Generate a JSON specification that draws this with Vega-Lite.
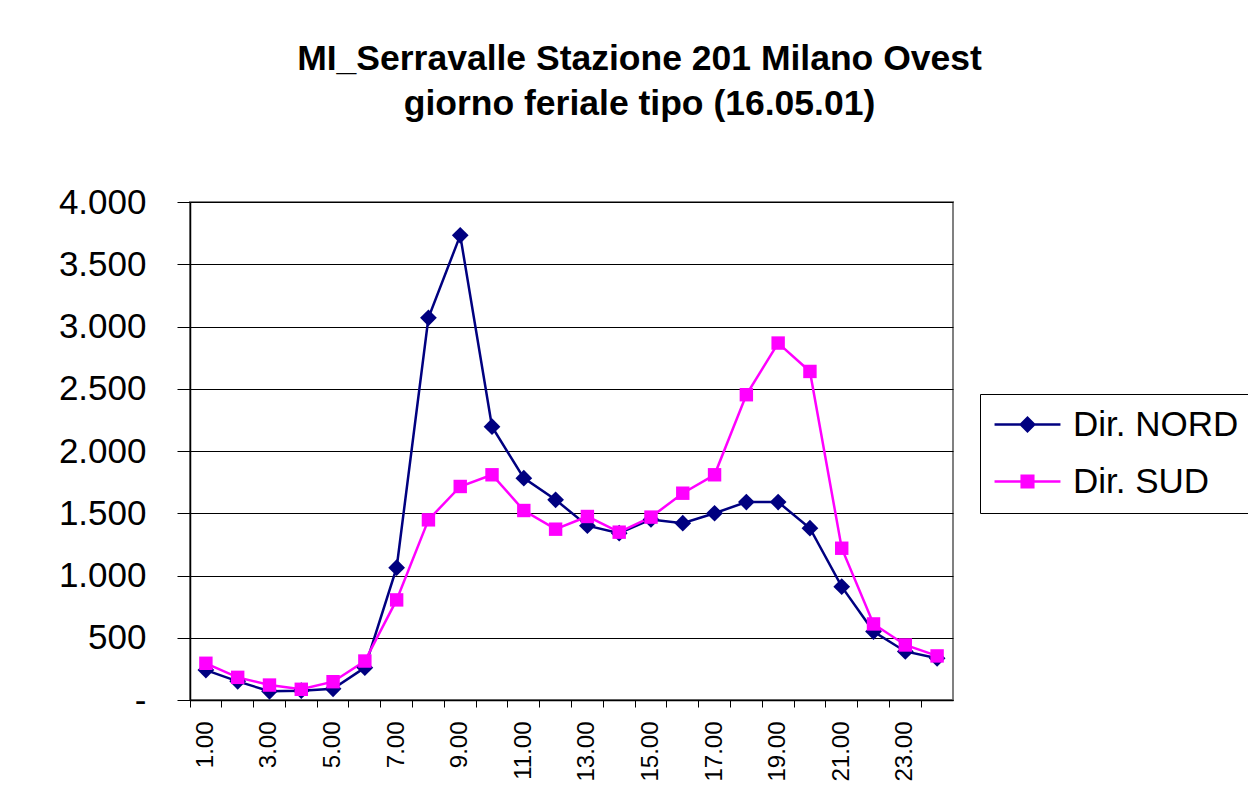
{
  "$schema": "https://vega.github.io/schema/vega-lite/v6.json",
  "autosize": {"type": "none"},
  "padding": {"left": 190, "top": 202, "right": 295, "bottom": 108},
  "width": 763,
  "height": 498,
  "background": "white",
  "title": {
    "text": ["MI_Serravalle Stazione 201 Milano Ovest", "giorno feriale tipo (16.05.01)"],
    "font": "Liberation Sans",
    "fontSize": 35.5,
    "fontWeight": "bold",
    "color": "black",
    "lineHeight": 45,
    "anchor": "middle",
    "frame": "group",
    "dx": 68,
    "offset": 63
  },
  "data": {
    "values": [
      {"ora": "1.00", "dir": "Dir. NORD", "v": 240},
      {"ora": "2.00", "dir": "Dir. NORD", "v": 150},
      {"ora": "3.00", "dir": "Dir. NORD", "v": 70},
      {"ora": "4.00", "dir": "Dir. NORD", "v": 75},
      {"ora": "5.00", "dir": "Dir. NORD", "v": 90},
      {"ora": "6.00", "dir": "Dir. NORD", "v": 260},
      {"ora": "7.00", "dir": "Dir. NORD", "v": 1063},
      {"ora": "8.00", "dir": "Dir. NORD", "v": 3070},
      {"ora": "9.00", "dir": "Dir. NORD", "v": 3732},
      {"ora": "10.00", "dir": "Dir. NORD", "v": 2195},
      {"ora": "11.00", "dir": "Dir. NORD", "v": 1782},
      {"ora": "12.00", "dir": "Dir. NORD", "v": 1608},
      {"ora": "13.00", "dir": "Dir. NORD", "v": 1400},
      {"ora": "14.00", "dir": "Dir. NORD", "v": 1340},
      {"ora": "15.00", "dir": "Dir. NORD", "v": 1450},
      {"ora": "16.00", "dir": "Dir. NORD", "v": 1420},
      {"ora": "17.00", "dir": "Dir. NORD", "v": 1500},
      {"ora": "18.00", "dir": "Dir. NORD", "v": 1590},
      {"ora": "19.00", "dir": "Dir. NORD", "v": 1590},
      {"ora": "20.00", "dir": "Dir. NORD", "v": 1380},
      {"ora": "21.00", "dir": "Dir. NORD", "v": 910},
      {"ora": "22.00", "dir": "Dir. NORD", "v": 550},
      {"ora": "23.00", "dir": "Dir. NORD", "v": 390},
      {"ora": "24.00", "dir": "Dir. NORD", "v": 335},
      {"ora": "1.00", "dir": "Dir. SUD", "v": 295},
      {"ora": "2.00", "dir": "Dir. SUD", "v": 182},
      {"ora": "3.00", "dir": "Dir. SUD", "v": 120},
      {"ora": "4.00", "dir": "Dir. SUD", "v": 86},
      {"ora": "5.00", "dir": "Dir. SUD", "v": 147},
      {"ora": "6.00", "dir": "Dir. SUD", "v": 313},
      {"ora": "7.00", "dir": "Dir. SUD", "v": 804},
      {"ora": "8.00", "dir": "Dir. SUD", "v": 1447},
      {"ora": "9.00", "dir": "Dir. SUD", "v": 1715},
      {"ora": "10.00", "dir": "Dir. SUD", "v": 1809},
      {"ora": "11.00", "dir": "Dir. SUD", "v": 1522},
      {"ora": "12.00", "dir": "Dir. SUD", "v": 1372},
      {"ora": "13.00", "dir": "Dir. SUD", "v": 1474},
      {"ora": "14.00", "dir": "Dir. SUD", "v": 1348},
      {"ora": "15.00", "dir": "Dir. SUD", "v": 1469},
      {"ora": "16.00", "dir": "Dir. SUD", "v": 1661},
      {"ora": "17.00", "dir": "Dir. SUD", "v": 1809},
      {"ora": "18.00", "dir": "Dir. SUD", "v": 2452},
      {"ora": "19.00", "dir": "Dir. SUD", "v": 2867},
      {"ora": "20.00", "dir": "Dir. SUD", "v": 2639},
      {"ora": "21.00", "dir": "Dir. SUD", "v": 1219},
      {"ora": "22.00", "dir": "Dir. SUD", "v": 611},
      {"ora": "23.00", "dir": "Dir. SUD", "v": 442},
      {"ora": "24.00", "dir": "Dir. SUD", "v": 354}
    ]
  },
  "encoding": {
    "x": {
      "field": "ora",
      "type": "nominal",
      "sort": null,
      "scale": {"type": "band", "paddingInner": 0, "paddingOuter": 0},
      "axis": {
        "title": null,
        "bandPosition": 0,
        "labelAngle": -90,
        "labelAlign": "right",
        "labelBaseline": "middle",
        "labelExpr": "toNumber(datum.value) % 2 == 1 ? datum.value : ''",
        "labelOverlap": false,
        "labelFont": "Liberation Sans",
        "labelFontSize": 24,
        "labelColor": "black",
        "labelPadding": 14,
        "tickSize": 7,
        "tickColor": "black",
        "domainColor": "black",
        "domainWidth": 1.5,
        "grid": false
      }
    },
    "y": {
      "field": "v",
      "type": "quantitative",
      "scale": {"domain": [0, 4000], "nice": false},
      "axis": {
        "title": null,
        "values": [0, 500, 1000, 1500, 2000, 2500, 3000, 3500, 4000],
        "labelExpr": "datum.value == 0 ? '-' : replace(format(datum.value, ','), ',', '.')",
        "labelFont": "Liberation Sans",
        "labelFontSize": 35,
        "labelColor": "black",
        "labelPadding": 31,
        "tickSize": 13,
        "tickColor": "black",
        "domainColor": "black",
        "domainWidth": 1.5,
        "grid": true,
        "gridColor": "black",
        "gridWidth": 1
      }
    },
    "color": {
      "field": "dir",
      "type": "nominal",
      "scale": {"domain": ["Dir. NORD", "Dir. SUD"], "range": ["#000080", "#FF00FF"]},
      "legend": {
        "title": null,
        "orient": "none",
        "legendX": 790,
        "legendY": 192,
        "padding": 13,
        "strokeColor": "black",
        "fillColor": "white",
        "symbolSize": 1024,
        "symbolOffset": 17,
        "symbolStrokeWidth": 0,
        "symbolOpacity": 1,
        "labelFont": "Liberation Sans",
        "labelFontSize": 35,
        "labelLimit": 400,
        "labelColor": "black",
        "labelOffset": 28,
        "rowPadding": 21
      }
    }
  },
  "layer": [
    {"mark": {"type": "line", "strokeWidth": 2.5}},
    {
      "transform": [{"filter": "datum.dir === 'Dir. NORD'"}],
      "mark": {"type": "point", "filled": true, "opacity": 1, "shape": "diamond", "size": 280}
    },
    {
      "transform": [{"filter": "datum.dir === 'Dir. SUD'"}],
      "mark": {"type": "point", "filled": true, "opacity": 1, "shape": "square", "size": 180}
    },
    {
      "transform": [{"filter": "false"}],
      "mark": {"type": "point", "filled": true, "opacity": 1},
      "encoding": {
        "shape": {
          "field": "dir",
          "type": "nominal",
          "scale": {
            "domain": ["Dir. NORD", "Dir. SUD"],
            "range": [
              "M-2.06,-0.08L2.06,-0.08L2.06,0.08L-2.06,0.08Z M-0.53,0L0,-0.53L0.53,0L0,0.53Z",
              "M-2.06,-0.08L2.06,-0.08L2.06,0.08L-2.06,0.08Z M-0.44,-0.44L0.44,-0.44L0.44,0.44L-0.44,0.44Z"
            ]
          },
          "legend": {
            "title": null,
            "orient": "none",
            "legendX": 790,
            "legendY": 192,
            "padding": 13,
            "strokeColor": "black",
            "fillColor": "white",
            "symbolSize": 1024,
            "symbolOffset": 17,
            "symbolStrokeWidth": 0,
            "symbolOpacity": 1,
            "labelFont": "Liberation Sans",
            "labelFontSize": 35,
            "labelLimit": 400,
            "labelColor": "black",
            "labelOffset": 28,
            "rowPadding": 21
          }
        }
      }
    }
  ],
  "config": {
    "view": {"stroke": "#808080", "strokeWidth": 2},
    "font": "Liberation Sans"
  }
}
